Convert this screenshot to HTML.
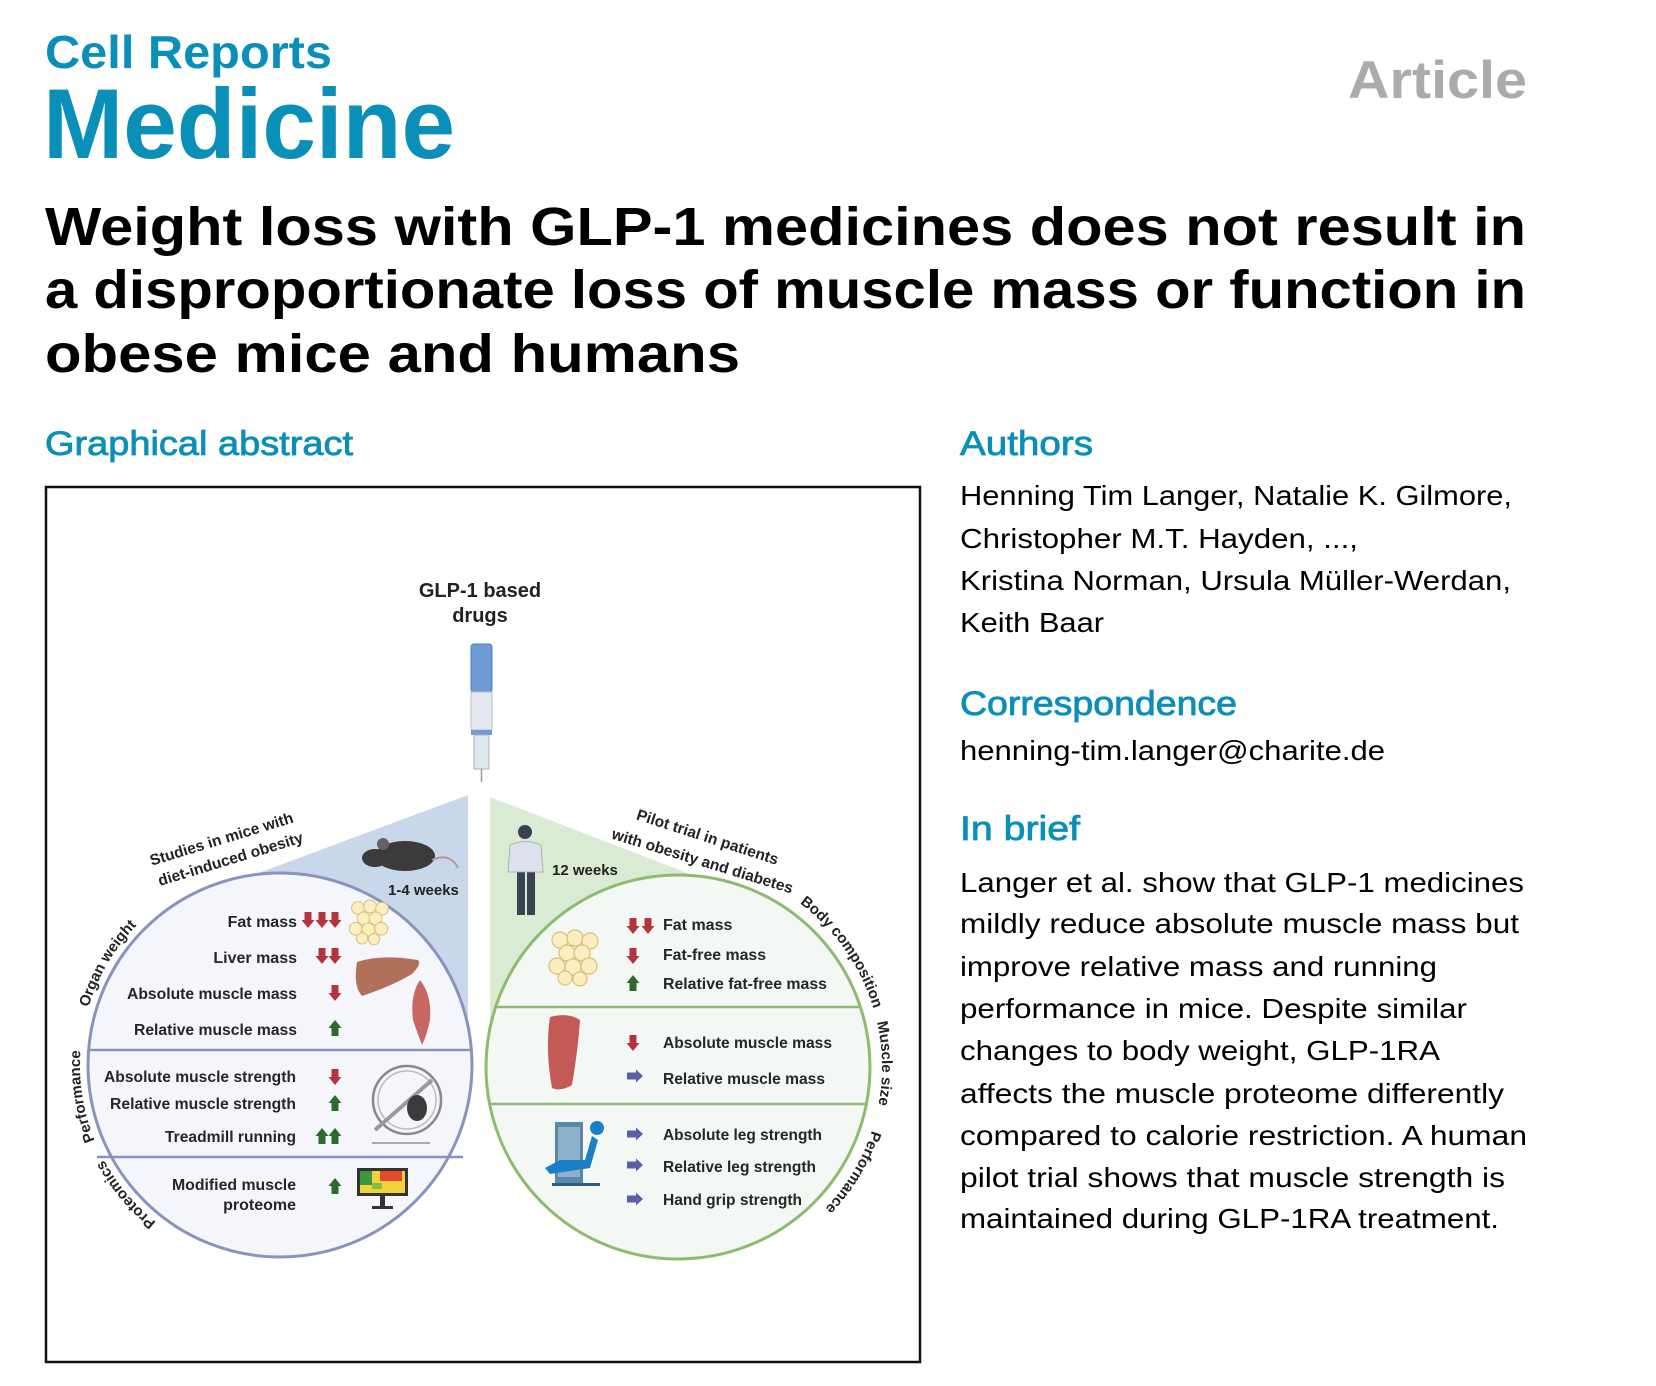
<!DOCTYPE html>
<html><head><meta charset="utf-8"><style>
html,body{margin:0;padding:0;background:#fff;width:1656px;height:1386px;overflow:hidden}
svg{display:block}
text{font-family:"Liberation Sans",Arial,sans-serif}
</style></head><body>
<svg width="1656" height="1386" viewBox="0 0 1656 1386" xmlns="http://www.w3.org/2000/svg">
<defs>
<g id="dn"><rect x="-3.5" y="0" width="7" height="9" fill="#b3343c"/><polygon points="-6.5,8 6.5,8 0,16" fill="#b3343c"/></g>
<g id="up"><rect x="-3.5" y="7" width="7" height="9" fill="#2e6a2c"/><polygon points="-6.5,8 6.5,8 0,0" fill="#2e6a2c"/></g>
<g id="rt"><rect x="-8" y="-3.5" width="10" height="7" fill="#5b5fa8"/><polygon points="1,-6.5 1,6.5 8,0" fill="#5b5fa8"/></g>
<g id="fat" fill="#fbeec0" stroke="#d8c078" stroke-width="1.2">
<circle cx="0" cy="0" r="8"/><circle cx="15" cy="-2" r="8"/><circle cx="30" cy="1" r="8"/><circle cx="7" cy="13" r="8"/><circle cx="22" cy="13" r="8"/><circle cx="-3" cy="26" r="8"/><circle cx="13" cy="27" r="8"/><circle cx="29" cy="26" r="8"/><circle cx="20" cy="39" r="7"/><circle cx="5" cy="38" r="7"/>
</g>
<path id="aOW" d="M80,1065 A200,200 0 0 1 183,890.1"/>
<path id="aPL" d="M116.2,1179.7 A200,200 0 0 1 88.7,1006.5"/>
<path id="aPR" d="M195.5,1246.3 A200,200 0 0 1 86.8,1116.8"/>
<path id="aBC" d="M747.8,875.3 A204,204 0 0 1 882,1067"/>
<path id="aMS" d="M862.9,980.8 A204,204 0 0 1 865.8,1146.7"/>
<path id="aPF" d="M878.9,1102.4 A204,204 0 0 1 803.6,1227.8"/>
</defs>

<text x="45" y="68" font-size="46" font-weight="bold" fill="#0a8fb8" textLength="287" lengthAdjust="spacingAndGlyphs">Cell Reports</text>
<text x="43" y="158" font-size="99" font-weight="bold" fill="#0a8fb8" textLength="412" lengthAdjust="spacingAndGlyphs">Medicine</text>
<text x="1348" y="98" font-size="53" font-weight="bold" fill="#ababab" textLength="179" lengthAdjust="spacingAndGlyphs">Article</text>

<g font-size="54" font-weight="bold" fill="#000">
<text x="45" y="245" textLength="1481" lengthAdjust="spacingAndGlyphs">Weight loss with GLP-1 medicines does not result in</text>
<text x="45" y="308" textLength="1481" lengthAdjust="spacingAndGlyphs">a disproportionate loss of muscle mass or function in</text>
<text x="45" y="372" textLength="695" lengthAdjust="spacingAndGlyphs">obese mice and humans</text>
</g>

<g stroke="#0a8fb8" stroke-width="0.8">
<text x="45" y="455" font-size="34" fill="#0a8fb8" textLength="308" lengthAdjust="spacingAndGlyphs">Graphical abstract</text>
<text x="960" y="455" font-size="34" fill="#0a8fb8" textLength="133" lengthAdjust="spacingAndGlyphs">Authors</text>
<text x="960" y="715" font-size="34" fill="#0a8fb8" textLength="277" lengthAdjust="spacingAndGlyphs">Correspondence</text>
<text x="960" y="840" font-size="34" fill="#0a8fb8" textLength="120" lengthAdjust="spacingAndGlyphs">In brief</text>
</g>

<g font-size="28" fill="#000">
<text x="960" y="505" textLength="552" lengthAdjust="spacingAndGlyphs">Henning Tim Langer, Natalie K. Gilmore,</text>
<text x="960" y="548" textLength="398" lengthAdjust="spacingAndGlyphs">Christopher M.T. Hayden, ...,</text>
<text x="960" y="590" textLength="551" lengthAdjust="spacingAndGlyphs">Kristina Norman, Ursula Müller-Werdan,</text>
<text x="960" y="632" textLength="144" lengthAdjust="spacingAndGlyphs">Keith Baar</text>
</g>
<text x="960" y="760" font-size="28" fill="#000" textLength="425" lengthAdjust="spacingAndGlyphs">henning-tim.langer@charite.de</text>
<g font-size="28" fill="#000">
<text x="960" y="892" textLength="564" lengthAdjust="spacingAndGlyphs">Langer et al. show that GLP-1 medicines</text>
<text x="960" y="933" textLength="559" lengthAdjust="spacingAndGlyphs">mildly reduce absolute muscle mass but</text>
<text x="960" y="976" textLength="477" lengthAdjust="spacingAndGlyphs">improve relative mass and running</text>
<text x="960" y="1018" textLength="507" lengthAdjust="spacingAndGlyphs">performance in mice. Despite similar</text>
<text x="960" y="1060" textLength="480" lengthAdjust="spacingAndGlyphs">changes to body weight, GLP-1RA</text>
<text x="960" y="1103" textLength="544" lengthAdjust="spacingAndGlyphs">affects the muscle proteome differently</text>
<text x="960" y="1145" textLength="567" lengthAdjust="spacingAndGlyphs">compared to calorie restriction. A human</text>
<text x="960" y="1187" textLength="545" lengthAdjust="spacingAndGlyphs">pilot trial shows that muscle strength is</text>
<text x="960" y="1228" textLength="539" lengthAdjust="spacingAndGlyphs">maintained during GLP-1RA treatment.</text>
</g>

<rect x="46" y="487" width="874" height="875" fill="#fff" stroke="#111" stroke-width="2.5"/>

<g font-size="20" font-weight="bold" fill="#222" text-anchor="middle">
<text x="480" y="597">GLP-1 based</text>
<text x="480" y="622">drugs</text>
</g>
<rect x="471" y="644" width="21" height="48" rx="3" fill="#6e9bd4" stroke="#4f7fbf"/>
<rect x="471" y="692" width="21" height="38" fill="#e6e8ef" stroke="#b9bfcc"/>
<rect x="471" y="730" width="21" height="5" fill="#6e9bd4"/>
<rect x="474" y="735" width="15" height="34" fill="#dde8ef" stroke="#a8b4c0"/>
<line x1="481.5" y1="769" x2="481.5" y2="782" stroke="#999" stroke-width="1.5"/>

<polygon points="468,795 240,880 468,1050" fill="#c8d7e9"/>
<polygon points="490,797 700,878 490,1060" fill="#d9ebd3"/>

<circle cx="280" cy="1065" r="192" fill="#f4f6fb" stroke="#8a93bd" stroke-width="3"/>
<line x1="89" y1="1050" x2="471" y2="1050" stroke="#8a93bd" stroke-width="2.5"/>
<line x1="97" y1="1157" x2="463" y2="1157" stroke="#8a93bd" stroke-width="2.5"/>

<circle cx="678" cy="1067" r="192" fill="#f3f8f5" stroke="#8dbb6f" stroke-width="3"/>
<line x1="496" y1="1007" x2="860" y2="1007" stroke="#8dbb6f" stroke-width="2.5"/>
<line x1="489" y1="1104" x2="867" y2="1104" stroke="#8dbb6f" stroke-width="2.5"/>

<g font-size="15" font-weight="bold" fill="#222">
<text text-anchor="middle"><textPath href="#aOW" startOffset="50%">Organ weight</textPath></text>
<text text-anchor="middle"><textPath href="#aPL" startOffset="50%">Performance</textPath></text>
<text text-anchor="middle"><textPath href="#aPR" startOffset="50%">Proteomics</textPath></text>
<text text-anchor="middle"><textPath href="#aBC" startOffset="50%">Body composition</textPath></text>
<text text-anchor="middle"><textPath href="#aMS" startOffset="50%">Muscle size</textPath></text>
<text text-anchor="middle"><textPath href="#aPF" startOffset="50%">Performance</textPath></text>
</g>
<g font-size="15.5" font-weight="bold" fill="#222" text-anchor="middle">
<text transform="translate(223,844) rotate(-17)">Studies in mice with</text>
<text transform="translate(232,864) rotate(-17)">diet-induced obesity</text>
<text transform="translate(706,842) rotate(18)">Pilot trial in patients</text>
<text transform="translate(701,866) rotate(17)">with obesity and diabetes</text>
</g>
<text x="388" y="895" font-size="15" font-weight="bold" fill="#222">1-4 weeks</text>
<text x="552" y="875" font-size="15" font-weight="bold" fill="#222">12 weeks</text>

<g fill="#3d3a3c">
<ellipse cx="405" cy="856" rx="30" ry="15"/>
<ellipse cx="375" cy="858" rx="13" ry="9"/>
<circle cx="383" cy="844" r="6" fill="#6a5f62"/>
</g>
<path d="M432,860 Q450,852 458,868" fill="none" stroke="#b49a9a" stroke-width="2"/>

<g fill="#3a4150">
<circle cx="525" cy="832" r="7"/>
<rect x="517" y="870" width="8" height="45"/><rect x="527" y="870" width="8" height="45"/>
</g>
<path d="M510,845 Q525,838 541,845 L543,872 L508,872 Z" fill="#dde1ee" stroke="#9aa" stroke-width="0.8"/>

<g font-size="16" font-weight="bold" fill="#262626" text-anchor="end">
<text x="297" y="927">Fat mass</text>
<text x="297" y="963">Liver mass</text>
<text x="297" y="999" textLength="170" lengthAdjust="spacingAndGlyphs">Absolute muscle mass</text>
<text x="297" y="1035" textLength="163" lengthAdjust="spacingAndGlyphs">Relative muscle mass</text>
<text x="296" y="1082" textLength="192" lengthAdjust="spacingAndGlyphs">Absolute muscle strength</text>
<text x="296" y="1109" textLength="186" lengthAdjust="spacingAndGlyphs">Relative muscle strength</text>
<text x="296" y="1142" textLength="131" lengthAdjust="spacingAndGlyphs">Treadmill running</text>
<text x="296" y="1190" textLength="124" lengthAdjust="spacingAndGlyphs">Modified muscle</text>
<text x="296" y="1210">proteome</text>
</g>
<use href="#dn" x="308" y="912"/><use href="#dn" x="322" y="912"/><use href="#dn" x="335" y="912"/>
<use href="#dn" x="322" y="948"/><use href="#dn" x="335" y="948"/>
<use href="#dn" x="335" y="985"/>
<use href="#up" x="335" y="1020"/>
<use href="#dn" x="335" y="1069"/>
<use href="#up" x="335" y="1095"/>
<use href="#up" x="322" y="1128"/><use href="#up" x="335" y="1128"/>
<use href="#up" x="335" y="1178"/>

<g transform="translate(358,908) scale(0.8)"><use href="#fat"/></g>
<path d="M357,962 Q380,954 418,960 Q422,964 412,974 Q392,986 362,996 Q353,986 357,962 Z" fill="#b0705a"/>
<path d="M420,980 Q432,995 430,1020 Q427,1035 422,1045 Q418,1035 413,1020 Q410,995 420,980 Z" fill="#c96862"/>
<circle cx="407" cy="1100" r="34" fill="none" stroke="#888" stroke-width="2.5"/>
<circle cx="407" cy="1100" r="29" fill="none" stroke="#bbb" stroke-width="1.5"/>
<line x1="375" y1="1130" x2="432" y2="1080" stroke="#999" stroke-width="4"/>
<line x1="372" y1="1143" x2="430" y2="1143" stroke="#aaa" stroke-width="2"/>
<ellipse cx="417" cy="1108" rx="10" ry="13" fill="#3d3a3c"/>
<rect x="357" y="1168" width="51" height="28" fill="#333"/>
<rect x="360" y="1171" width="45" height="22" fill="#f1d23c"/>
<rect x="360" y="1171" width="12" height="14" fill="#3a9a3a"/>
<rect x="380" y="1171" width="22" height="10" fill="#e14a2e"/>
<rect x="372" y="1183" width="10" height="6" fill="#7fbf3f"/>
<rect x="380" y="1196" width="5" height="10" fill="#333"/>
<rect x="372" y="1206" width="21" height="3" fill="#333"/>

<g font-size="16" font-weight="bold" fill="#262626">
<text x="663" y="930">Fat mass</text>
<text x="663" y="960" textLength="103" lengthAdjust="spacingAndGlyphs">Fat-free mass</text>
<text x="663" y="989" textLength="164" lengthAdjust="spacingAndGlyphs">Relative fat-free mass</text>
<text x="663" y="1048" textLength="169" lengthAdjust="spacingAndGlyphs">Absolute muscle mass</text>
<text x="663" y="1084" textLength="162" lengthAdjust="spacingAndGlyphs">Relative muscle mass</text>
<text x="663" y="1140" textLength="159" lengthAdjust="spacingAndGlyphs">Absolute leg strength</text>
<text x="663" y="1172" textLength="153" lengthAdjust="spacingAndGlyphs">Relative leg strength</text>
<text x="663" y="1205" textLength="139" lengthAdjust="spacingAndGlyphs">Hand grip strength</text>
</g>
<use href="#dn" x="633" y="918"/><use href="#dn" x="648" y="918"/>
<use href="#dn" x="633" y="948"/>
<use href="#up" x="633" y="975"/>
<use href="#dn" x="633" y="1035"/>
<use href="#rt" x="635" y="1076"/>
<use href="#rt" x="635" y="1134"/>
<use href="#rt" x="635" y="1165"/>
<use href="#rt" x="635" y="1199"/>

<use href="#fat" x="560" y="940"/>
<path d="M550,1017 Q568,1012 580,1020 Q578,1050 572,1085 Q560,1092 552,1088 Q545,1050 550,1017 Z" fill="#c35a55"/>
<rect x="555" y="1122" width="28" height="62" fill="#5b87a8"/>
<rect x="558" y="1127" width="22" height="50" fill="#8fb2cc"/>
<circle cx="597" cy="1128" r="7" fill="#1a7fc4"/>
<path d="M592,1136 L585,1160 L560,1160 L545,1168 L550,1174 L590,1168 L598,1140 Z" fill="#1a7fc4"/>
<rect x="552" y="1183" width="48" height="3" fill="#2c5f85"/>
</svg>
</body></html>
